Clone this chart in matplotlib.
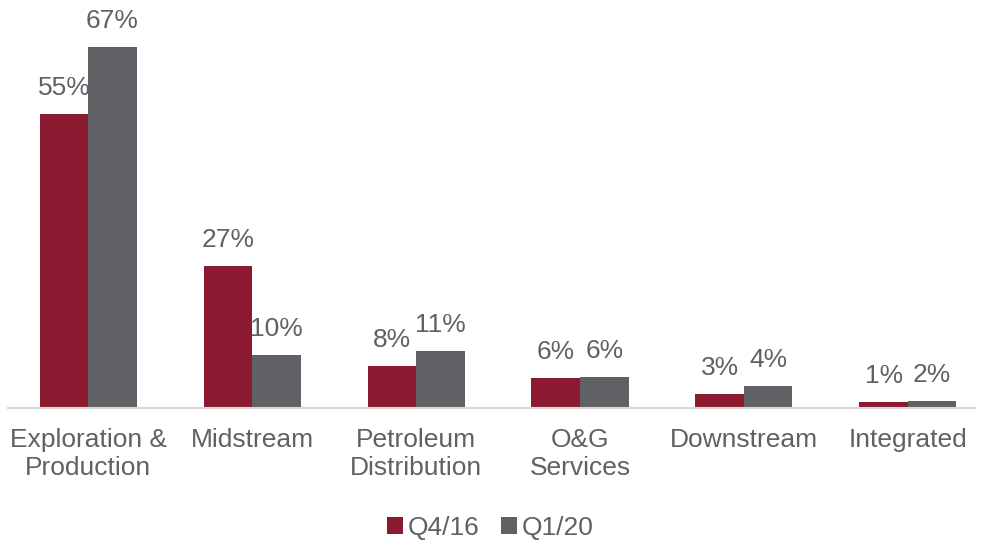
import numpy as np
import matplotlib.pyplot as plt

plt.rcParams['font.family'] = ['Liberation Sans', 'DejaVu Sans']

# datos
categorias = ['Exploration &\nProduction', 'Midstream', 'Petroleum\nDistribution',
              'O&G\nServices', 'Downstream', 'Integrated']
q416 = [54.5, 26.4, 7.8, 5.6, 2.6, 1.1]
q120 = [67.0, 9.8, 10.6, 5.8, 4.1, 1.3]
etiquetas_q416 = ['55%', '27%', '8%', '6%', '3%', '1%']
etiquetas_q120 = ['67%', '10%', '11%', '6%', '4%', '2%']

rojo = '#8B1A30'
gris = '#5F6164'
texto = '#5E6165'

fig = plt.figure(figsize=(9.81, 5.42), dpi=100)
ax = fig.add_axes([0.008, 0.247, 0.986, 0.753])

x = np.arange(len(categorias))
w = 0.296
b1 = ax.bar(x - w / 2, q416, w, color=rojo, label='Q4/16')
b2 = ax.bar(x + w / 2, q120, w, color=gris, label='Q1/20')

ax.bar_label(b1, labels=etiquetas_q416, padding=10, fontsize=19, color=texto)
ax.bar_label(b2, labels=etiquetas_q120, padding=10, fontsize=19, color=texto)

ax.set_xlim(-0.49, 5.41)
ax.set_ylim(0, 75.7)
ax.set_xticks(x)
ax.set_xticklabels(categorias, fontsize=19, color=texto, linespacing=1.25)
ax.tick_params(axis='x', length=0, pad=14)
ax.set_yticks([])
for s in ['top', 'right', 'left']:
    ax.spines[s].set_visible(False)
ax.spines['bottom'].set_color('#D9D9D9')
ax.spines['bottom'].set_linewidth(1.5)

leg = fig.legend(handles=[b1, b2], loc='lower center', bbox_to_anchor=(0.5, -0.04),
                 ncol=2, frameon=False, fontsize=19, handlelength=0.6, handleheight=0.6,
                 handletextpad=0.2, columnspacing=0.8)
for t in leg.get_texts():
    t.set_color(texto)

fig.savefig('out.png', dpi=100)
